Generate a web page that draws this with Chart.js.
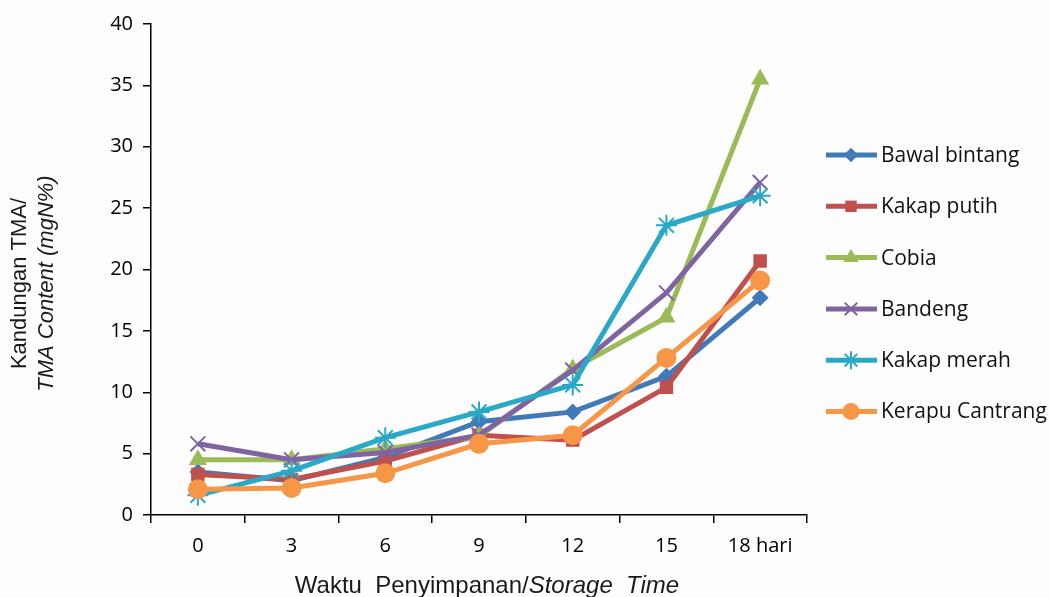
<!DOCTYPE html>
<html>
<head>
<meta charset="utf-8">
<script src="https://cdn.jsdelivr.net/npm/chart.js@4.4.1/dist/chart.umd.min.js"></script>
<style>
  html, body { margin: 0; padding: 0; background: #fdfdfe; }
  #tmaChart { display: block; }
</style>
</head>
<body>
<canvas id="tmaChart" width="1050" height="597"></canvas>
<script>
// storage time (days)
const days = ['0', '3', '6', '9', '12', '15', '18 hari'];

// TMA content, mgN%
const bawalBintang   = [3.5, 2.8, 4.7, 7.6, 8.4, 11.3, 17.7];
const kakapPutih     = [3.3, 2.9, 4.4, 6.5, 6.1, 10.4, 20.7];
const cobia          = [4.5, 4.5, 5.4, 6.4, 11.9, 16.1, 35.5];
const bandeng        = [5.8, 4.5, 5.1, 6.5, 11.8, 18.1, 27.1];
const kakapMerah     = [1.6, 3.6, 6.3, 8.4, 10.6, 23.6, 26.0];
const kerapuCantrang = [2.1, 2.2, 3.4, 5.8, 6.5, 12.8, 19.1];

const yTicks = [0, 5, 10, 15, 20, 25, 30, 35, 40];

const series = [
  { label: 'Bawal bintang',   data: bawalBintang,   color: '#4279b8', style: 'rectRot',  r: 8.5 },
  { label: 'Kakap putih',     data: kakapPutih,     color: '#c0504d', style: 'rect',     r: 9.5 },
  { label: 'Cobia',           data: cobia,          color: '#9bbb59', style: 'triangle', r: 10.5 },
  { label: 'Bandeng',         data: bandeng,        color: '#8064a2', style: 'crossRot', r: 10.5 },
  { label: 'Kakap merah',     data: kakapMerah,     color: '#2aa9c6', style: 'star',     r: 10.5 },
  { label: 'Kerapu Cantrang', data: kerapuCantrang, color: '#f79646', style: 'circle',   r: 10 }
];

const datasets = series.map((s, i) => {
  const open = s.style === 'crossRot' || s.style === 'star';
  return {
    label: s.label,
    data: s.data,
    borderColor: s.color,
    backgroundColor: s.color,
    borderWidth: 5,
    tension: 0,
    pointStyle: s.style,
    pointRadius: s.r,
    pointHoverRadius: s.r,
    pointBackgroundColor: s.color,
    pointBorderColor: s.color,
    pointBorderWidth: open ? 2 : 0,
    order: series.length - i   // last series on top, like the original
  };
});

// axis titles + legend drawn by hand
const decor = {
  id: 'decor',
  beforeDraw(chart) {
    const ctx = chart.ctx;
    ctx.save();
    ctx.fillStyle = '#fdfdfe';
    ctx.fillRect(0, 0, chart.width, chart.height);
    ctx.restore();
  },
  afterDraw(chart) {
    const ctx = chart.ctx;
    const area = chart.chartArea;
    ctx.save();
    ctx.fillStyle = '#1a1a1a';
    ctx.textBaseline = 'middle';
    ctx.textAlign = 'center';

    // y title, two rotated lines
    const midY = (area.top + area.bottom) / 2 + 14;
    ctx.save();
    ctx.translate(20, midY);
    ctx.rotate(-Math.PI / 2);
    ctx.font = '22px "Liberation Sans", Arial, sans-serif';
    ctx.fillText('Kandungan TMA/', 0, 0);
    ctx.restore();
    ctx.save();
    ctx.translate(47, midY);
    ctx.rotate(-Math.PI / 2);
    ctx.font = 'italic 22px "Liberation Sans", Arial, sans-serif';
    ctx.fillText('TMA Content (mgN%)', 0, 0);
    ctx.restore();

    // x title, mixed upright / italic
    const p1 = 'Waktu  Penyimpanan/';
    const p2 = 'Storage  Time';
    ctx.textBaseline = 'alphabetic';
    ctx.textAlign = 'left';
    ctx.font = '24px "Liberation Sans", Arial, sans-serif';
    const w1 = ctx.measureText(p1).width;
    ctx.font = 'italic 24px "Liberation Sans", Arial, sans-serif';
    const w2 = ctx.measureText(p2).width;
    let x = (area.left + area.right) / 2 + 8 - (w1 + w2) / 2;
    ctx.font = '24px "Liberation Sans", Arial, sans-serif';
    ctx.fillText(p1, x, 593);
    ctx.font = 'italic 24px "Liberation Sans", Arial, sans-serif';
    ctx.fillText(p2, x + w1, 593);

    // legend
    ctx.font = '21px "Open Sans", sans-serif';
    ctx.textBaseline = 'middle';
    chart.data.datasets.forEach((ds, i) => {
      const y = 155 + i * 51.3;
      ctx.strokeStyle = ds.borderColor;
      ctx.lineWidth = 5;
      ctx.beginPath();
      ctx.moveTo(826, y);
      ctx.lineTo(877, y);
      ctx.stroke();
      ctx.fillStyle = ds.pointBackgroundColor;
      ctx.strokeStyle = ds.pointBorderColor;
      ctx.lineWidth = ds.pointBorderWidth || 0.01;
      Chart.helpers.drawPoint(ctx, {
        pointStyle: ds.pointStyle,
        radius: ds.pointRadius * 0.85,
        rotation: 0,
        borderWidth: ds.pointBorderWidth
      }, 851, y);
      ctx.fillStyle = '#111';
      ctx.fillText(ds.label, 881, y + 1);
    });
    ctx.restore();
  }
};

const tickFont = { family: '"Open Sans", sans-serif', size: 20 };

new Chart(document.getElementById('tmaChart'), {
  type: 'line',
  data: { labels: days, datasets },
  plugins: [decor],
  options: {
    responsive: false,
    animation: false,
    layout: { padding: { left: 0, right: 243, top: 24, bottom: 0 } },
    plugins: { legend: { display: false }, tooltip: { enabled: false } },
    scales: {
      x: {
        offset: true,
        grid: { offset: true, drawOnChartArea: false, drawTicks: true, tickLength: 8, color: '#000', lineWidth: 1.5 },
        border: { color: '#000', width: 1.5 },
        ticks: { color: '#000', font: tickFont, padding: 11, maxRotation: 0 },
        afterFit: s => { s.height = 82; }
      },
      y: {
        min: 0,
        max: 40,
        afterBuildTicks: s => { s.ticks = yTicks.map(v => ({ value: v })); },
        grid: { drawOnChartArea: false, drawTicks: true, tickLength: 8, color: '#000', lineWidth: 1.5 },
        border: { color: '#000', width: 1.5 },
        ticks: { color: '#000', font: tickFont, padding: 10 },
        afterFit: s => { s.width = 151; }
      }
    }
  }
});
</script>
</body>
</html>
